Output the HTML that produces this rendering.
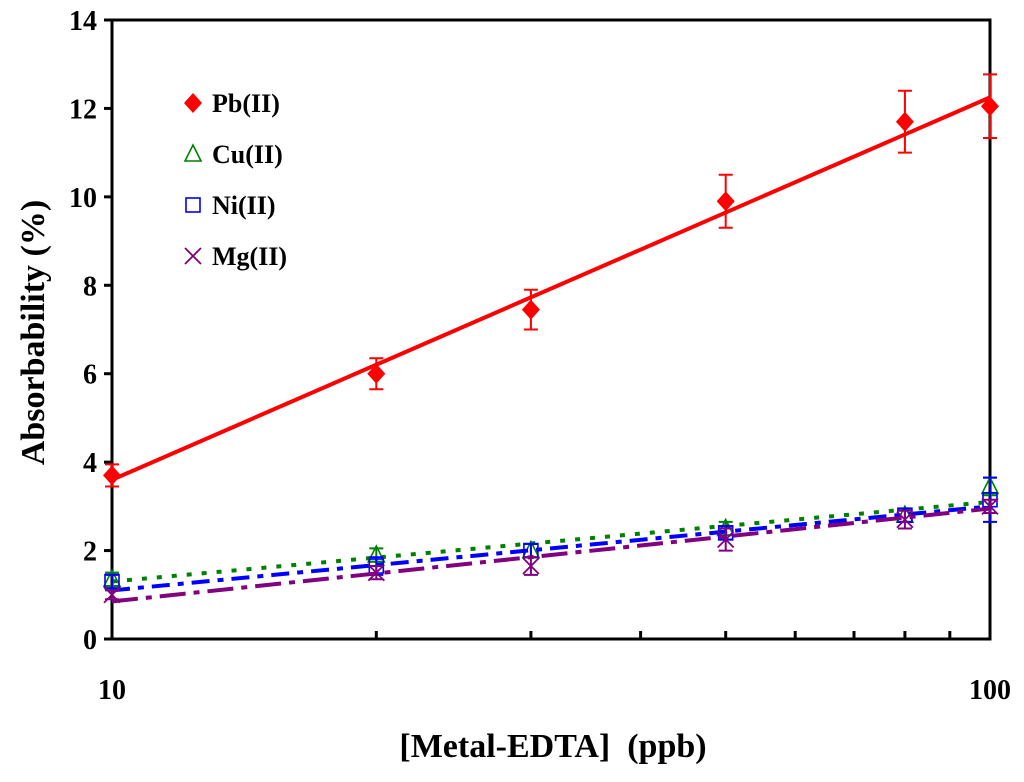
<!DOCTYPE html>
<html><head><meta charset="utf-8"><style>
body{margin:0;background:#fff;}
svg text{font-family:"Liberation Serif",serif;font-weight:bold;white-space:pre;}
</style></head><body>
<svg id="c" width="1024" height="777" xmlns="http://www.w3.org/2000/svg"></svg>
<script>
const xs=[10,20,30,50,80,100];
const pb=[3.7,6.0,7.45,9.9,11.7,12.05];
const pbErr=[0.25,0.35,0.45,0.6,0.7,0.72];
const cu=[1.35,1.9,2.0,2.5,2.8,3.45];
const cuErr=[0.15,0.15,0.15,0.15,0.15,0.2];
const ni=[1.3,1.65,2.0,2.4,2.8,3.15];
const niErr=[0.15,0.2,0.15,0.15,0.15,0.5];
const mg=[1.0,1.5,1.65,2.25,2.7,3.0];
const mgErr=[0.1,0.15,0.2,0.25,0.2,0.15];
const fitPb=[3.6,12.25];
const fitCu=[1.3,3.1];
const fitNi=[1.1,3.0];
const fitMg=[0.85,2.95];
const yTicks=[0,2,4,6,8,10,12,14];
const xMinor=[20,30,40,50,60,70,80,90];
const X0=112,X1=990,Y0=639,Y1=20;
const xS=v=>X0+(X1-X0)*Math.log10(v/10);
const yS=v=>Y0-(Y0-Y1)*v/14;
const svg=document.getElementById('c');
const NS='http://www.w3.org/2000/svg';
function mk(t,a,p){const e=document.createElementNS(NS,t);for(const k in a)e.setAttribute(k,a[k]);(p||svg).appendChild(e);return e;}
let e=mk('rect',{x:X0,y:Y1,width:X1-X0,height:Y0-Y1,fill:'none',stroke:'#000','stroke-width':3});


yTicks.forEach(v=>{
 let t=mk('line',{x1:X0-8,x2:X0,y1:yS(v),y2:yS(v),stroke:'#000','stroke-width':3});
 
 
 let l=mk('text',{x:X0-15,y:yS(v)+10,'text-anchor':'end','font-size':28});l.textContent=v;
 
 
});
xMinor.forEach(v=>{
 let t=mk('line',{x1:xS(v),x2:xS(v),y1:Y0,y2:Y0-8,stroke:'#000','stroke-width':3});
 
 
});
[[10,'10'],[100,'100']].forEach(([v,s])=>{
 let l=mk('text',{x:xS(v),y:Y0+60,'text-anchor':'middle','font-size':28});l.textContent=s;
 
 
});
let yt=mk('text',{x:0,y:0,'text-anchor':'middle','font-size':34,transform:`translate(44,${(Y0+Y1)/2+3}) rotate(-90)`});
yt.textContent='Absorbability (%)';


let xt=mk('text',{x:553,y:757,'text-anchor':'middle','font-size':34});
xt.textContent='[Metal-EDTA]  (ppb)';


const series=[
 {n:'pb',d:pb,err:pbErr,f:fitPb,c:'#ff0000',dash:'',w:4,m:'diamond',lab:'Pb(II)'},
 {n:'cu',d:cu,err:cuErr,f:fitCu,c:'#008000',dash:'5,10',w:4,m:'tri',lab:'Cu(II)'},
 {n:'ni',d:ni,err:niErr,f:fitNi,c:'#0000ff',dash:'18,8,6,8',w:4,m:'sq',lab:'Ni(II)'},
 {n:'mg',d:mg,err:mgErr,f:fitMg,c:'#800080',dash:'26,8,6,8',w:4,m:'x',lab:'Mg(II)'}];
function marker(m,x,y,c,g){
 if(m==='diamond')return mk('polygon',{points:`${x},${y-10} ${x+9},${y} ${x},${y+10} ${x-9},${y}`,fill:c},g);
 if(m==='tri')return mk('polygon',{points:`${x},${y-9} ${x+8},${y+7} ${x-8},${y+7}`,fill:'none',stroke:c,'stroke-width':1.6},g);
 if(m==='sq')return mk('rect',{x:x-7,y:y-7,width:14,height:14,fill:'none',stroke:c,'stroke-width':1.6},g);
 return mk('path',{d:`M${x-8},${y-8}L${x+8},${y+8}M${x+8},${y-8}L${x-8},${y+8}`,stroke:c,'stroke-width':1.8},g);
}
series.forEach((s,si)=>{
 const g=mk('g',{});
 
 
 let fl=mk('line',{x1:xS(10),y1:yS(s.f[0]),x2:xS(100),y2:yS(s.f[1]),stroke:s.c,'stroke-width':s.w,'stroke-dasharray':s.dash},g);
 
 
 s.d.forEach((v,i)=>{
  const x=xS(xs[i]),y=yS(v),e1=yS(v+s.err[i]),e2=yS(v-s.err[i]);
  let eb=mk('path',{d:`M${x},${e1}L${x},${e2}M${x-7},${e1}L${x+7},${e1}M${x-7},${e2}L${x+7},${e2}`,stroke:s.c,'stroke-width':2,fill:'none'},g);
  
  
  let mm=marker(s.m,x,y,s.c,g);
  
  
 });
 const ly=103+si*51;
 let lm=marker(s.m,193,ly,s.c,svg);
 
 
 let lt=mk('text',{x:212,y:ly+9,'font-size':26});lt.textContent=s.lab;
 
 
});
</script>
</body></html>
